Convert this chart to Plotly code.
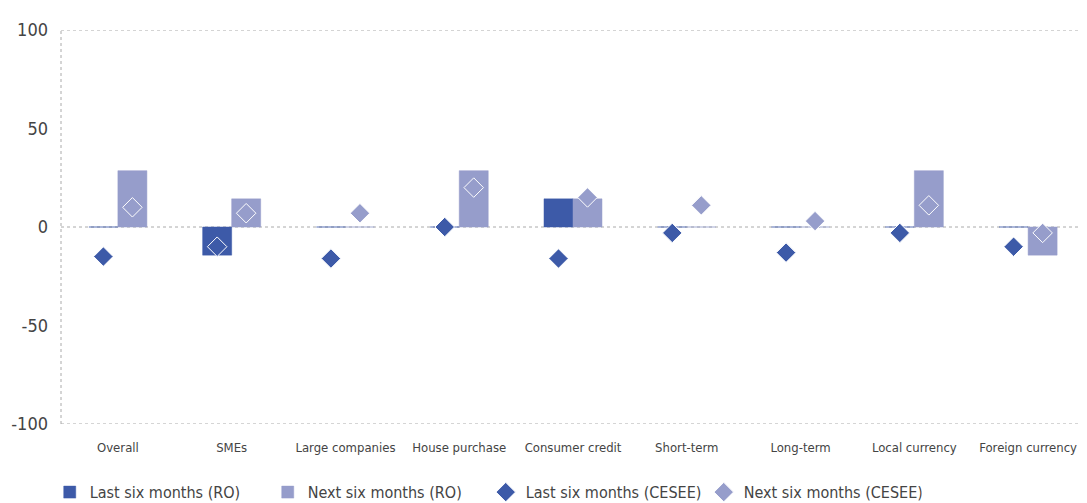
import plotly.graph_objects as go

categories = ["Overall", "SMEs", "Large companies", "House purchase", "Consumer credit",
              "Short-term", "Long-term", "Local currency", "Foreign currency"]
last_ro = [0, -14.3, 0, 0, 14.3, 0, 0, 0, 0]
next_ro = [28.6, 14.3, 0, 28.6, 14.3, 0, 0, 28.6, -14.3]
last_cesee = [-15, -10, -16, 0, -16, -3, -13, -3, -10]
next_cesee = [10, 7, 7, 20, 15, 11, 3, 11, -3]
y_ticks = [-100, -50, 0, 50, 100]
y_tick_text = ["-100", "-50", "0", "50", "100"]

DARK = "#3D5AA8"
LIGHT = "#969DCB"
FONT = "DejaVu Sans Condensed, Liberation Sans Narrow, sans-serif"

fig = go.Figure()
fig.add_trace(go.Bar(x=categories, y=last_ro, name="Last six months (RO)", marker=dict(color=DARK, line=dict(color=DARK, width=0.5)), offsetgroup="a"))
fig.add_trace(go.Bar(x=categories, y=next_ro, name="Next six months (RO)", marker=dict(color=LIGHT, line=dict(color=LIGHT, width=0.5)), offsetgroup="b"))
fig.add_trace(go.Scatter(x=categories, y=last_cesee, name="Last six months (CESEE)", mode="markers", offsetgroup="a",
                         marker=dict(symbol="diamond", size=15, color=DARK, line=dict(color="white", width=1))))
fig.add_trace(go.Scatter(x=categories, y=next_cesee, name="Next six months (CESEE)", mode="markers", offsetgroup="b",
                         marker=dict(symbol="diamond", size=15, color=LIGHT, line=dict(color="white", width=1))))

for yv in [100, 0, -100]:
    fig.add_shape(type="line", xref="paper", yref="y", x0=0, x1=1, y0=yv, y1=yv,
                  line=dict(color="#AAAAAA", width=1, dash="dot"), layer="below")
fig.add_shape(type="line", xref="paper", yref="y", x0=0, x1=0, y0=-100, y1=100,
              line=dict(color="#AAAAAA", width=1, dash="dot"), layer="below")

fig.update_layout(
    width=1079, height=495,
    margin=dict(l=53, r=2, t=22, b=79, autoexpand=False),
    plot_bgcolor="white", paper_bgcolor="white",
    barmode="group", bargap=0.49, bargroupgap=0,
    scattermode="group", scattergap=0.49,
    font=dict(family=FONT, color="#444444"),
    showlegend=True,
    legend=dict(orientation="h", x=-0.011, y=-0.13, xanchor="left", yanchor="top",
                font=dict(size=16, color="#444444"), itemwidth=30, traceorder="normal",
                entrywidth=173, entrywidthmode="pixels"),
    xaxis=dict(showgrid=False, showline=False, zeroline=False, ticks="", tickangle=0,
               automargin=False, tickfont=dict(size=13, color="#444444"), ticklabelstandoff=14),
    yaxis=dict(range=[-100, 100], tickvals=y_ticks, ticktext=y_tick_text, showgrid=False,
               automargin=False, zeroline=False, showline=False,
               tickfont=dict(size=18, color="#444444"), ticklabelstandoff=12),
)

fig.write_html("out.html")
